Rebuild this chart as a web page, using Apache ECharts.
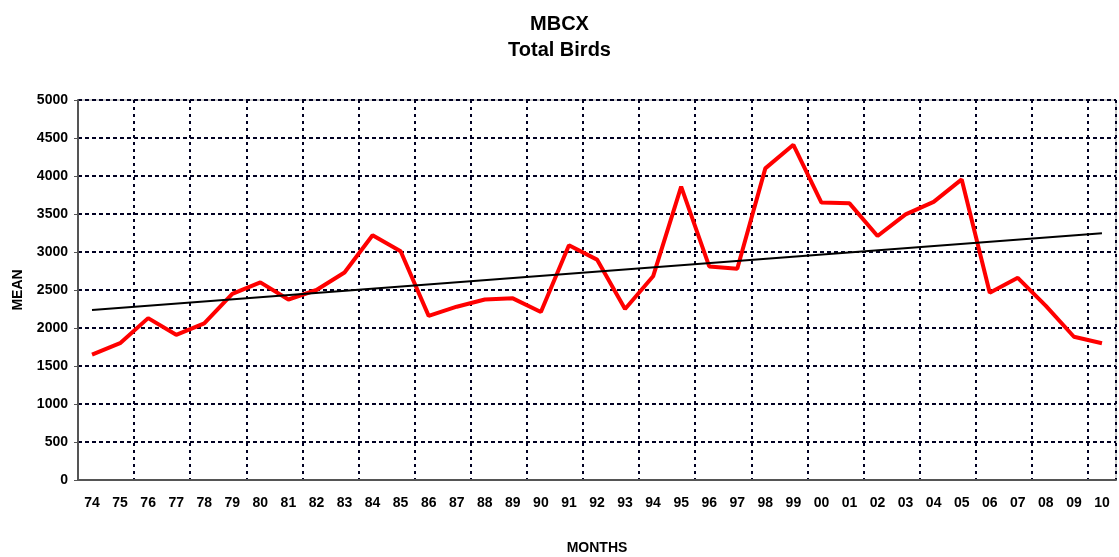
<!DOCTYPE html>
<html>
<head>
<meta charset="utf-8">
<script src="https://cdn.jsdelivr.net/npm/echarts@6/dist/echarts.min.js"></script>
<style>
  html, body { margin: 0; padding: 0; background: #fff; }
  #chart { width: 1119px; height: 557px; }
</style>
</head>
<body>
<div id="chart"></div>
<script>
// years (2 digit)
const years = ['74', '75', '76', '77', '78', '79', '80', '81', '82', '83', '84', '85', '86', '87', '88', '89',
  '90', '91', '92', '93', '94', '95', '96', '97', '98', '99', '00', '01', '02', '03', '04', '05',
  '06', '07', '08', '09', '10']
// mean total birds
const meanValues = [1650, 1800, 2130, 1910, 2060, 2450, 2600, 2375, 2500, 2730, 3220, 3010, 2160, 2280,
  2375, 2390, 2210, 3090, 2900, 2250, 2680, 3860, 2810, 2780, 4100, 4410, 3650, 3640, 3210, 3495,
  3660, 3955, 2465, 2660, 2290, 1885, 1800]
// trend line, first and last year
const trendEnds = [2237, 3246]
const yTicks = { min: 0, max: 5000, interval: 500 }

const chart = echarts.init(document.getElementById('chart'))
const font = 'Liberation Sans, Arial, sans-serif'
const last = years.length - 1
const trendData = years.map((y, i) => (i === 0 ? trendEnds[0] : (i === last ? trendEnds[1] : null)))

chart.setOption({
  animation: false,
  title: {
    text: 'MBCX\nTotal Birds',
    left: 'center',
    top: 6,
    textStyle: { fontFamily: font, fontSize: 20, fontWeight: 'bold', color: '#000', lineHeight: 26 }
  },
  grid: {
    left: 78, right: 3, top: 100, bottom: 77,
    outerBoundsMode: 'none',
    containLabel: false,
    show: true, borderColor: '#a0a0a0', borderWidth: 1
  },
  xAxis: {
    type: 'category',
    data: years,
    boundaryGap: true,
    name: 'MONTHS',
    nameLocation: 'middle',
    nameGap: 61,
    nameTextStyle: { fontFamily: font, fontSize: 14, fontWeight: 'bold', color: '#000' },
    axisLine: { lineStyle: { color: '#555', width: 2 } },
    axisTick: { show: false },
    axisLabel: { interval: 0, margin: 16, fontFamily: font, fontSize: 14, fontWeight: 'bold', color: '#000' },
    splitLine: {
      show: true,
      interval: 1,
      lineStyle: { color: '#000022', width: 2, type: [3, 4] }
    }
  },
  yAxis: {
    type: 'value',
    min: yTicks.min,
    max: yTicks.max,
    interval: yTicks.interval,
    name: 'MEAN',
    nameLocation: 'middle',
    nameRotate: 90,
    nameGap: 53,
    nameTextStyle: { fontFamily: font, fontSize: 14, fontWeight: 'bold', color: '#000' },
    axisLine: { show: true, lineStyle: { color: '#555', width: 2 } },
    axisTick: { show: true, length: 4, lineStyle: { color: '#555' } },
    axisLabel: {
      margin: 10, fontFamily: font, fontSize: 14, fontWeight: 'bold', color: '#000',
      formatter: (v) => String(v)
    },
    splitLine: {
      show: true,
      lineStyle: { color: '#000022', width: 2, type: [4, 3] }
    }
  },
  series: [
    {
      name: 'Total Birds',
      type: 'line',
      data: meanValues,
      symbol: 'none',
      lineStyle: { color: '#ff0000', width: 4 },
      z: 3
    },
    {
      name: 'Trend',
      type: 'line',
      data: trendData,
      connectNulls: true,
      symbol: 'none',
      lineStyle: { color: '#000', width: 2 },
      z: 4
    }
  ]
})
</script>
</body>
</html>
